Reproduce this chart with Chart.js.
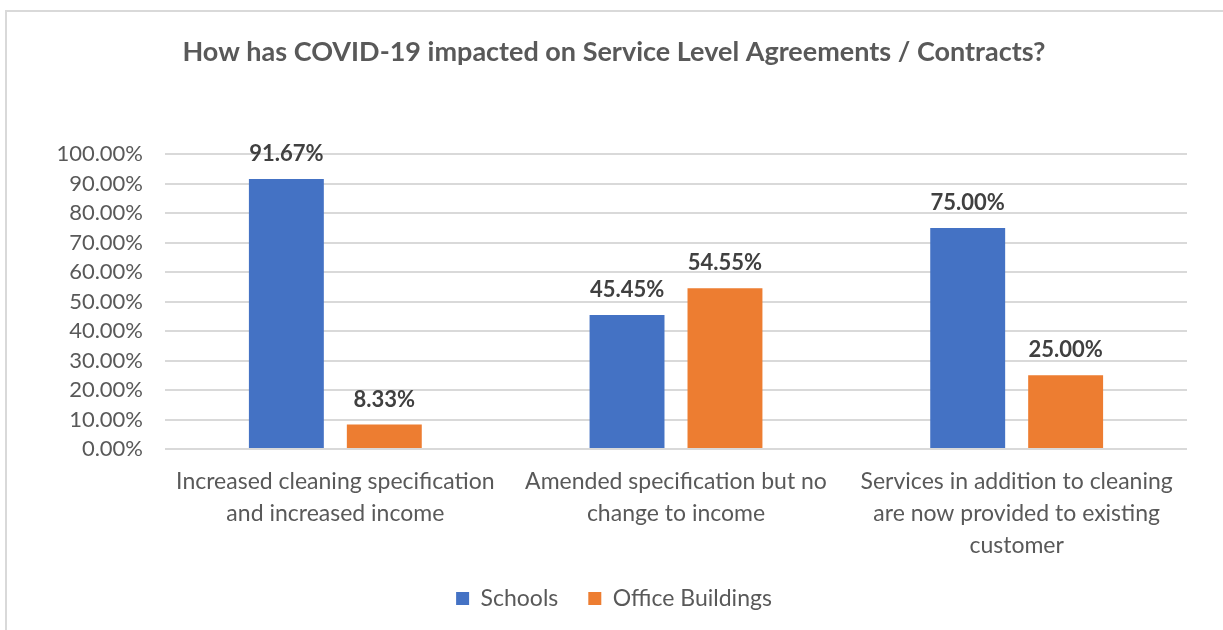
<!DOCTYPE html>
<html>
<head>
<meta charset="utf-8">
<script src="https://cdn.jsdelivr.net/npm/chart.js@4"></script>
<style>
    html, body { margin: 0; padding: 0; background: #ffffff; overflow: hidden; }
    #frame {
        position: absolute; left: 5px; top: 10px;
        width: 1260px; height: 660px;
        border: 2px solid #d9d9d9;
    }
    #wrap { position: absolute; left: 0; top: 0; width: 1223px; height: 630px; }
</style>
</head>
<body>
<div id="frame"></div>
<div id="wrap"><canvas id="myChart"></canvas></div>
<script>
const categories = [
    ['Increased cleaning specification', 'and increased income'],
    ['Amended specification but no', 'change to income'],
    ['Services in addition to cleaning', 'are now provided to existing', 'customer']
];
const schools = [91.67, 45.45, 75.00];
const officeBuildings = [8.33, 54.55, 25.00];
const yTicks = [0, 10, 20, 30, 40, 50, 60, 70, 80, 90, 100];

const textGray = '#595959';

// percentage labels above each bar
const barLabels = {
    id: 'barLabels',
    afterDatasetsDraw(chart) {
        const ctx = chart.ctx;
        ctx.save();
        ctx.font = 'bold 22px Lato';
        ctx.fillStyle = '#404040';
        ctx.textAlign = 'center';
        ctx.textBaseline = 'middle';
        chart.data.datasets.forEach((ds, i) => {
            const meta = chart.getDatasetMeta(i);
            meta.data.forEach((bar, j) => {
                ctx.fillText(ds.data[j].toFixed(2) + '%', bar.x, bar.y - 25);
            });
        });
        ctx.restore();
    }
};

graph();

function graph() {
    const ctx = document.getElementById('myChart');

    Chart.defaults.font.family = 'Lato';
    Chart.defaults.color = textGray;

    new Chart(ctx, {
        type: 'bar',
        data: {
            labels: categories,
            datasets: [
                {
                    label: 'Schools',
                    data: schools,
                    backgroundColor: '#4472C4',
                    barPercentage: 0.765,
                    categoryPercentage: 0.575
                },
                {
                    label: 'Office Buildings',
                    data: officeBuildings,
                    backgroundColor: '#ED7D31',
                    barPercentage: 0.765,
                    categoryPercentage: 0.575
                }
            ]
        },
        options: {
            animation: false,
            responsive: true,
            maintainAspectRatio: false,
            layout: {
                padding: {left: 41, right: 36, top: 0, bottom: 10}
            },
            plugins: {
                title: {
                    display: true,
                    text: 'How has COVID-19 impacted on Service Level Agreements / Contracts?',
                    color: textGray,
                    font: {size: 27, weight: 'bold'},
                    padding: {top: 36, bottom: 86}
                },
                legend: {
                    position: 'bottom',
                    labels: {
                        boxWidth: 13,
                        boxHeight: 13,
                        padding: 30,
                        color: textGray,
                        font: {size: 23}
                    }
                },
                tooltip: {
                    enabled: false
                }
            },
            scales: {
                x: {
                    grid: {display: false},
                    border: {display: false},
                    ticks: {
                        color: textGray,
                        font: {size: 23, lineHeight: 1.39},
                        padding: 9,
                        maxRotation: 0,
                        autoSkip: false
                    },
                    afterFit: (scale) => { scale.height = 108; }
                },
                y: {
                    min: 0,
                    max: 100,
                    afterBuildTicks: (scale) => {
                        scale.ticks = yTicks.map(v => ({value: v}));
                    },
                    ticks: {
                        color: textGray,
                        font: {size: 22},
                        padding: 22,
                        autoSkip: false,
                        callback: (v) => v.toFixed(2) + '%'
                    },
                    border: {display: false},
                    grid: {
                        color: '#d9d9d9',
                        lineWidth: 2,
                        drawTicks: false
                    },
                    afterFit: (scale) => { scale.width = 124; }
                }
            }
        },
        plugins: [barLabels]
    });
}
</script>
</body>
</html>
